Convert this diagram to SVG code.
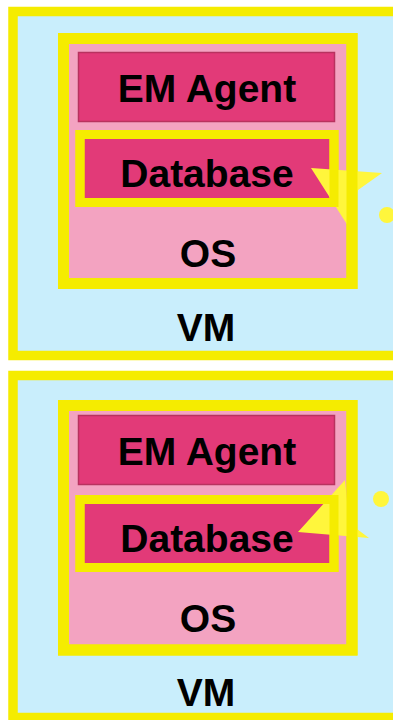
<svg xmlns="http://www.w3.org/2000/svg" width="393" height="720" viewBox="0 0 393 720">
<style>
.vm{fill:#C9EEFC;stroke:#F5EC00;stroke-width:9.5}
.os{fill:#F3A3C1;stroke:#F5EC00;stroke-width:11}
.agent{fill:#E23A78;stroke:#B8325F;stroke-width:1.5}
.db{fill:#E23A78;stroke:#F5EC00;stroke-width:9}
.frame-os{fill:none;stroke:#F5EC00;stroke-width:11}
.frame-db{fill:none;stroke:#F5EC00;stroke-width:9}
.star{fill:#FFF63C}
text{font-family:"Liberation Sans",Arial,sans-serif;font-weight:bold;font-size:39px;fill:#000;text-anchor:middle}
</style>
<rect width="393" height="720" fill="#FFFFFF"/>
<g id="vm1"><rect class="vm" x="13" y="11.5" width="420" height="344"/><text x="206" y="341">VM</text></g>
<g id="os1"><rect class="os" x="63.5" y="38.5" width="288.5" height="245"/><text x="208" y="267">OS</text></g>
<g id="agent1"><rect class="agent" x="78.5" y="52.5" width="256" height="69"/><text x="207" y="102">EM Agent</text></g>
<g id="db1"><rect class="db" x="80" y="134.5" width="254" height="68"/><text x="207" y="187">Database</text></g>
<g id="vm2"><rect class="vm" x="13" y="375.5" width="420" height="342"/><text x="206" y="706">VM</text></g>
<g id="os2"><rect class="os" x="63.5" y="405.5" width="288.5" height="244.5"/><text x="208" y="632">OS</text></g>
<g id="agent2"><rect class="agent" x="78.5" y="415.5" width="256" height="69"/><text x="207" y="465">EM Agent</text></g>
<g id="db2"><rect class="db" x="80" y="499.5" width="254" height="68"/><text x="207" y="552">Database</text></g>
<g id="decorations">
<polygon class="star" points="311,168 382,173 358,190 348,226"/>
<circle class="star" cx="387" cy="215" r="8"/>
<polygon class="star" points="298,532 345,480 349,523 369,538"/>
<circle class="star" cx="381" cy="499" r="8"/>
</g>
<g id="frames">
<rect class="frame-os" x="63.5" y="38.5" width="288.5" height="245"/>
<rect class="frame-db" x="80" y="134.5" width="254" height="68"/>
<rect class="frame-os" x="63.5" y="405.5" width="288.5" height="244.5"/>
<rect class="frame-db" x="80" y="499.5" width="254" height="68"/>
</g>
</svg>
